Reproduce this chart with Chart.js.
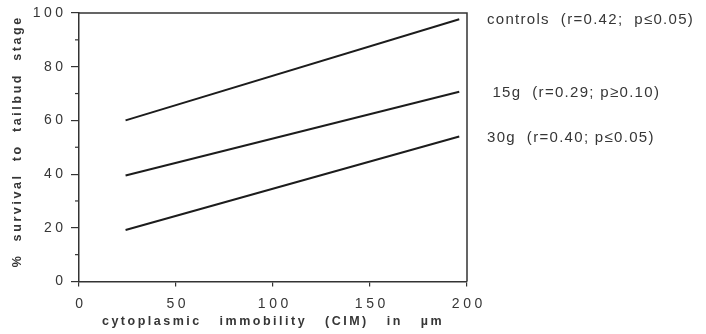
<!DOCTYPE html>
<html>
<head>
<meta charset="utf-8">
<script src="https://cdn.jsdelivr.net/npm/chart.js@4/dist/chart.umd.min.js"></script>
<style>
  html, body { margin: 0; padding: 0; background: #ffffff; }
  #wrap { width: 706px; height: 334px; position: relative; }
</style>
</head>
<body>
<div id="wrap"><canvas id="c" width="706" height="334"></canvas></div>
<script>
// ---- data ----
const xValues = [24, 196];
const controlsY = [60.0, 97.7];
const g15Y = [39.5, 70.7];
const g30Y = [19.2, 54.0];
const seriesNames = ['controls', '15g', '30g'];
const seriesNotes = ['controls  (r=0.42;  p\u22640.05)', ' 15g  (r=0.29; p\u22650.10)', '30g  (r=0.40; p\u22640.05)'];
const xTicks = [0, 50, 100, 150, 200];
const yTicks = [0, 20, 40, 60, 80, 100];
const yMinorTicks = [10, 30, 50, 70, 90];
const xTitle = 'cytoplasmic   immobility   (CIM)   in   \u00b5m';
const yTitle = '  %  survival  to  tailbud  stage';

const INK = '#1c1c1c';
const TXT = '#363636';
const FONT = '"Liberation Sans", Arial, Helvetica, sans-serif';

// letter spacing per axis part (the original typeset is widely spaced)
const SPACING = { x: { ticks: 3.5, title: 2.5 }, y: { ticks: 3.5, title: 2.6 } };
const origLabels = Chart.Scale.prototype.drawLabels;
Chart.Scale.prototype.drawLabels = function (a) {
  const ctx = this.ctx; ctx.save();
  const s = SPACING[this.axis]; if (s) ctx.letterSpacing = s.ticks + 'px';
  origLabels.call(this, a); ctx.restore();
};
const origTitle = Chart.Scale.prototype.drawTitle;
Chart.Scale.prototype.drawTitle = function () {
  const ctx = this.ctx; ctx.save();
  const s = SPACING[this.axis]; if (s) ctx.letterSpacing = s.title + 'px';
  origTitle.call(this); ctx.restore();
};

function pts(ys) { return ys.map((y, i) => ({ x: xValues[i], y })); }

const frameAndExtras = {
  id: 'frameAndExtras',
  afterDraw(chart) {
    const { ctx, chartArea: a, scales } = chart;
    ctx.save();
    // top and right frame
    ctx.strokeStyle = '#333'; ctx.lineWidth = 1.5;
    ctx.beginPath();
    ctx.moveTo(a.left, a.top); ctx.lineTo(a.right, a.top); ctx.lineTo(a.right, a.bottom);
    ctx.stroke();
    // minor ticks on y axis
    ctx.lineWidth = 1.2;
    yMinorTicks.forEach(v => {
      const y = scales.y.getPixelForValue(v);
      ctx.beginPath(); ctx.moveTo(a.left - 4, y); ctx.lineTo(a.left, y); ctx.stroke();
    });
    // notes at the end of each line
    ctx.fillStyle = TXT;
    ctx.font = '15px ' + FONT;
    ctx.letterSpacing = '1.3px';
    ctx.textBaseline = 'middle';
    ctx.textAlign = 'left';
    chart.data.datasets.forEach((ds, i) => {
      const last = ds.data[ds.data.length - 1];
      const y = scales.y.getPixelForValue(last.y) + 1;
      ctx.fillText(seriesNotes[i], a.right + 20, y);
    });
    ctx.restore();
  }
};

const lineStyle = { borderColor: INK, borderWidth: 2, pointRadius: 0, tension: 0, fill: false };

new Chart(document.getElementById('c'), {
  type: 'line',
  data: {
    datasets: [
      Object.assign({ label: seriesNames[0], data: pts(controlsY) }, lineStyle),
      Object.assign({ label: seriesNames[1], data: pts(g15Y) }, lineStyle),
      Object.assign({ label: seriesNames[2], data: pts(g30Y) }, lineStyle)
    ]
  },
  options: {
    responsive: false,
    animation: false,
    layout: { padding: { top: 13, right: 239, left: 0, bottom: 0 } },
    plugins: { legend: { display: false }, tooltip: { enabled: false } },
    scales: {
      x: {
        type: 'linear', min: 0, max: 200,
        afterBuildTicks: s => { s.ticks = xTicks.map(v => ({ value: v })); },
        afterFit: s => { s.height = 52.5; },
        ticks: { color: TXT, font: { family: FONT, size: 14 }, padding: 9, labelOffset: 1.8, maxRotation: 0 },
        grid: { drawOnChartArea: false, color: '#333', tickLength: 5, lineWidth: 1.2 },
        border: { color: '#333', width: 1.5 },
        title: { display: true, text: xTitle, color: TXT, font: { family: FONT, size: 12.5, weight: 'bold' }, padding: { top: 0, bottom: 4.5 } }
      },
      y: {
        min: 0, max: 100,
        afterBuildTicks: s => { s.ticks = yTicks.map(v => ({ value: v })); },
        afterFit: s => { s.width = 79; },
        ticks: { color: TXT, font: { family: FONT, size: 14 }, padding: 4.5 },
        grid: { drawOnChartArea: false, color: '#333', tickLength: 8, lineWidth: 1.2 },
        border: { color: '#333', width: 1.5 },
        title: { display: true, text: yTitle, color: TXT, font: { family: FONT, size: 12.5, weight: 'bold' }, padding: { top: 10.5, bottom: 0 } }
      }
    }
  },
  plugins: [frameAndExtras]
});
</script>
</body>
</html>
